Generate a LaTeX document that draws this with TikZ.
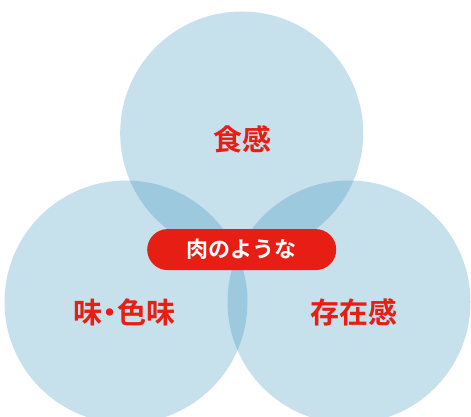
\documentclass[tikz,border=0pt]{standalone}
\usepackage{fontspec}
\newfontfamily\jpfont{Noto Sans CJK JP}[BoldFont={* Bold}]
\definecolor{circblue}{RGB}{59,147,189}
\definecolor{labred}{RGB}{230,30,20}
\begin{document}
\begin{tikzpicture}[x=1pt,y=1pt,
  venn/.style={circle,fill=circblue,fill opacity=0.29,draw=none,minimum size=243pt,inner sep=0pt},
  lab/.style={text=labred,font=\jpfont\bfseries\fontsize{29}{31}\selectfont},
  pill/.style={fill=labred,rounded corners=20.5pt,minimum width=189pt,minimum height=41pt,inner sep=0pt,text=white,font=\jpfont\bfseries\fontsize{22}{24}\selectfont}]
\useasboundingbox (0,0) rectangle (471,417);
\node[venn] (top) at (241.7,284) {};
\node[venn] (left) at (126,115) {};
\node[venn] (right) at (349,115) {};
\node[lab] (t1) at (242,278) {食感};
\node[lab] (t2) at (124,105) {味\kern-7pt・\kern-7pt色味};
\node[lab] (t3) at (354,105) {存在感};
\node[pill] (center) at (241.7,167.4) {肉のような};
\end{tikzpicture}
\end{document}
